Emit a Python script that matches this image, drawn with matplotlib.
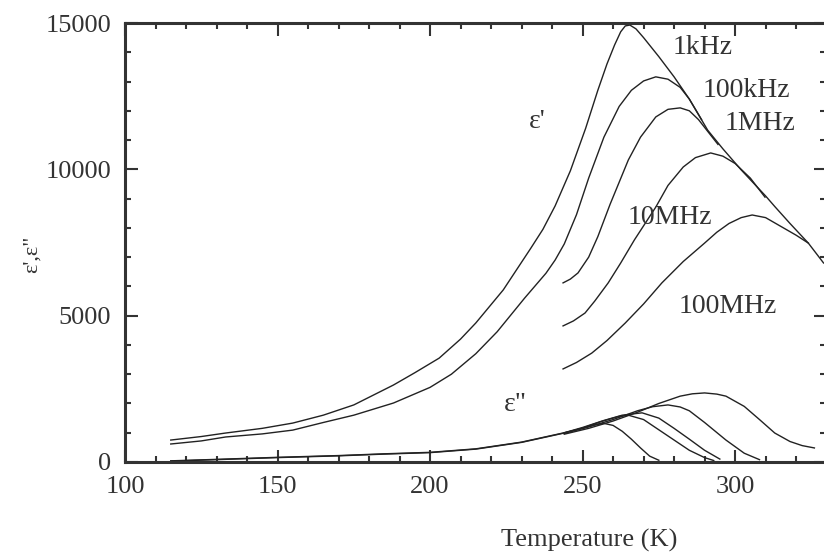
import matplotlib
matplotlib.use('Agg')
import matplotlib.pyplot as plt
from matplotlib.ticker import MultipleLocator

plt.rcParams['font.family'] = ['Liberation Serif', 'DejaVu Serif']

T_1k = [115, 125, 133, 145, 155, 165, 175, 188, 195, 203, 210, 215, 224, 233, 237, 241, 246, 251, 255, 258, 260.5, 262.5, 264, 265.5, 267.5, 270, 275, 280, 285, 291, 296, 302, 310, 313, 318, 324, 329]
e_1k = [750, 870, 990, 1150, 1330, 1600, 1950, 2630, 3050, 3550, 4200, 4750, 5880, 7300, 7950, 8750, 9950, 11400, 12700, 13600, 14250, 14700, 14900, 14930, 14800, 14500, 13850, 13160, 12400, 11340, 10700, 9980, 9090, 8730, 8150, 7480, 6800]

T_100k = [115, 125, 133, 145, 155, 165, 175, 188, 200, 207, 215, 222, 231, 238, 241, 244, 248, 252, 257, 262, 266, 270, 274, 278, 282, 285, 289]
e_100k = [615, 720, 855, 960, 1090, 1350, 1600, 2015, 2550, 3000, 3700, 4450, 5600, 6450, 6900, 7450, 8450, 9700, 11100, 12150, 12700, 13020, 13160, 13080, 12800, 12400, 11700]

T_1M = [243.6, 246, 248.5, 252, 255, 259, 265, 269, 274, 278, 282, 285, 288, 291, 294.4]
e_1M = [6120, 6250, 6460, 7000, 7700, 8800, 10320, 11100, 11790, 12050, 12100, 12000, 11700, 11300, 10850]

T_10M = [243.6, 247, 250.8, 254, 258.4, 262.5, 267, 274, 278, 283, 287, 292, 296, 300, 305, 309.8]
e_10M = [4650, 4820, 5090, 5500, 6120, 6800, 7590, 8710, 9450, 10080, 10400, 10560, 10450, 10200, 9700, 9050]

T_100M = [243.6, 248, 253, 258, 264, 270, 276, 283, 290, 294, 298, 302, 305.6, 310, 315, 320, 324]
e_100M = [3180, 3400, 3720, 4150, 4750, 5400, 6120, 6850, 7480, 7850, 8150, 8350, 8440, 8350, 8050, 7750, 7480]

# eps'' (imaginary part)
T_i1k = [115, 130, 150, 170, 185, 200, 215, 230, 244, 250, 254, 257, 260, 263, 266, 269, 272, 275]
e_i1k = [40, 90, 160, 220, 280, 330, 450, 680, 1000, 1150, 1270, 1320, 1250, 1050, 780, 480, 200, 60]

T_i100k = [115, 130, 150, 170, 185, 200, 215, 230, 244, 250, 256, 262, 265, 270, 275, 280, 285, 290, 293]
e_i100k = [30, 80, 150, 210, 270, 320, 440, 670, 990, 1160, 1380, 1560, 1600, 1450, 1100, 750, 400, 150, 50]

T_i1M = [244, 250, 257, 263, 269.5, 275, 280, 285, 290, 295]
e_i1M = [1000, 1180, 1420, 1600, 1680, 1500, 1150, 780, 400, 100]

T_i10M = [244, 252, 260, 268, 273, 278, 282, 285, 290, 297, 303, 308]
e_i10M = [980, 1200, 1450, 1750, 1890, 1950, 1880, 1750, 1350, 750, 300, 80]

T_i100M = [244, 252, 260, 268, 275, 282, 286, 290, 294, 297, 303, 308, 313, 318, 322, 326]
e_i100M = [950, 1150, 1400, 1700, 2000, 2250, 2330, 2360, 2320, 2250, 1900, 1450, 990, 700, 560, 480]

freq_labels = ['1kHz', '100kHz', '1MHz', '10MHz', '100MHz']
label_T = [289.2, 303.6, 308.2, 278.7, 297.7]
label_e = [14150, 12710, 11580, 8340, 5300]

fig = plt.figure(figsize=(8.24, 5.57), dpi=100)
# right spine sits just past the edge of the picture, as in the scan
ax = fig.add_axes([125 / 824, 95 / 557, 701 / 824, 439 / 557])

for T, e in [(T_1k, e_1k), (T_100k, e_100k), (T_1M, e_1M), (T_10M, e_10M), (T_100M, e_100M)]:
    ax.plot(T, e, color='#222222', lw=1.0)
for T, e in [(T_i1k, e_i1k), (T_i100k, e_i100k), (T_i1M, e_i1M), (T_i10M, e_i10M), (T_i100M, e_i100M)]:
    ax.plot(T, e, color='#222222', lw=1.0)

for lab, t, e in zip(freq_labels, label_T, label_e):
    ax.text(t, e, lab, fontsize=20, ha='center', va='center', color='#333333')
ax.text(235.1, 11620, "ε'", fontsize=20, ha='center', va='center', color='#333333')
ax.text(227.9, 1950, 'ε"', fontsize=20, ha='center', va='center', color='#333333')

ax.set_xlim(100, 329.8)
ax.set_ylim(0, 15000)
ax.xaxis.set_major_locator(MultipleLocator(50))
ax.xaxis.set_minor_locator(MultipleLocator(10))
ax.yaxis.set_major_locator(MultipleLocator(5000))
ax.yaxis.set_minor_locator(MultipleLocator(1000))
ax.tick_params(which='both', direction='in', top=True, right=True, width=1.5, colors='#333333')
ax.tick_params(which='major', length=9, labelsize=19, pad=10)
ax.tick_params(which='minor', length=4)
for s in ax.spines.values():
    s.set_linewidth(2.2)
    s.set_color('#333333')

fig.text(589 / 824, 1 - 540 / 557, 'Temperature (K)', fontsize=19, ha='center', va='center', color='#333333')
fig.text(32 / 824, 1 - 254 / 557, 'ε\',ε"', fontsize=16, rotation=90, ha='center', va='center', color='#333333')

fig.savefig('out.png', dpi=100)
